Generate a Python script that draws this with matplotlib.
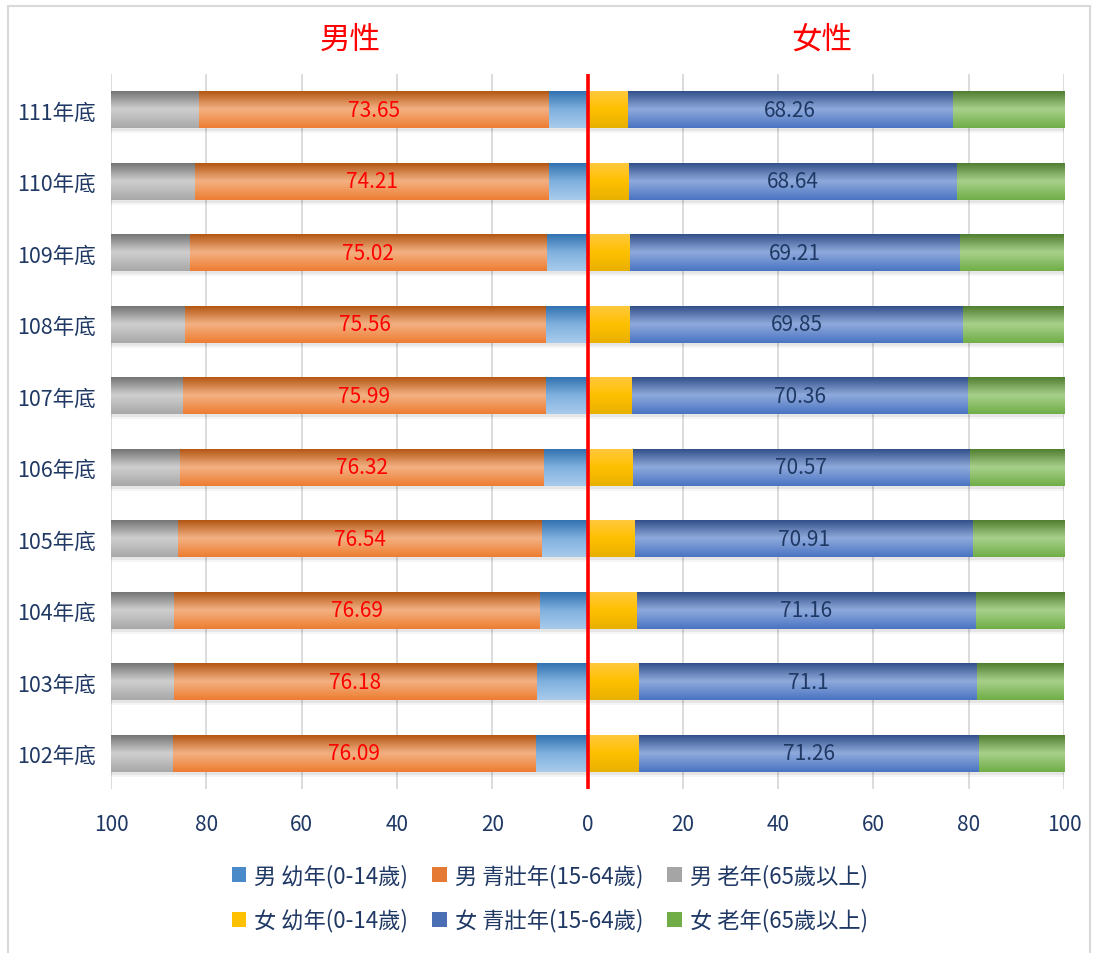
import numpy as np
import matplotlib.pyplot as plt
from matplotlib.patches import Patch, Rectangle
from matplotlib.colors import LinearSegmentedColormap

plt.rcParams['font.family'] = ['Noto Sans CJK TC', 'DejaVu Sans']

years = ['102年底', '103年底', '104年底', '105年底', '106年底',
         '107年底', '108年底', '109年底', '110年底', '111年底']

male_young = [10.9, 10.7, 10.1, 9.6, 9.2, 9.0, 9.0, 8.6, 8.2, 8.0]
male_work = [76.09, 76.18, 76.69, 76.54, 76.32, 75.99, 75.56, 75.02, 74.21, 73.65]
male_old = [100 - a - b for a, b in zip(male_young, male_work)]

female_young = [10.9, 10.7, 10.3, 9.9, 9.6, 9.4, 9.0, 9.0, 8.8, 8.4]
female_work = [71.26, 71.1, 71.16, 70.91, 70.57, 70.36, 69.85, 69.21, 68.64, 68.26]
female_old = [100 - a - b for a, b in zip(female_young, female_work)]

legend_labels = ['男 幼年(0-14歲)', '男 青壯年(15-64歲)', '男 老年(65歲以上)',
                 '女 幼年(0-14歲)', '女 青壯年(15-64歲)', '女 老年(65歲以上)']

# (top, middle, bottom) colours for the Excel-like gradient
grads = [
    ('#2E6FAE', '#7FB0DE', '#A8CBEB'),   # male young
    ('#B0520F', '#F4B183', '#ED7D31'),   # male working
    ('#707070', '#CFCFCF', '#A8A8A8'),   # male old
    ('#FFC940', '#FFC000', '#E8B000'),   # female young
    ('#2F4C86', '#8FAADC', '#4A74C2'),   # female working
    ('#4D7A2C', '#A8D18C', '#70AD47'),   # female old
]
flat = ['#4A8AC9', '#E57A35', '#A5A5A5', '#FFC000', '#4A6FB5', '#70AD47']

fig = plt.figure(figsize=(10.93, 9.54), dpi=100)
fig.patches.append(Rectangle((0.007, -0.01), 0.99, 1.0025, transform=fig.transFigure,
                             fill=False, edgecolor='#D9D9D9', lw=1.5))
ax = fig.add_axes([0.1016, 0.172, 0.8719, 0.7494])

y = np.arange(len(years))
h = 0.52
navy = '#1F3864'

# soft shadow under each full bar
for off, a in [(0.04, 0.06), (0.07, 0.04)]:
    ax.barh(y - off, -100, height=h, color='#000000', alpha=a, edgecolor='none', zorder=1.5)
    ax.barh(y - off, 100, height=h, color='#000000', alpha=a, edgecolor='none', zorder=1.5)


def grad_bar(left, width, color_set):
    bars = ax.barh(y, width, left=left, height=h, color=color_set[1], edgecolor='none', zorder=2)
    cmap = LinearSegmentedColormap.from_list('g', [color_set[0], color_set[1], color_set[2]])
    grad = np.linspace(0, 1, 64).reshape(-1, 1)
    for b in bars:
        x0, y0 = b.get_x(), b.get_y()
        im = ax.imshow(grad, extent=[x0, x0 + b.get_width(), y0, y0 + b.get_height()],
                       cmap=cmap, aspect='auto', zorder=2.1, interpolation='bicubic')
        im.set_clip_path(b)
    return bars


# male side (negative)
grad_bar(np.zeros(len(y)), -np.array(male_young), grads[0])
grad_bar(-np.array(male_young), -np.array(male_work), grads[1])
grad_bar(-np.array(male_young) - np.array(male_work), -np.array(male_old), grads[2])

# female side
grad_bar(np.zeros(len(y)), np.array(female_young), grads[3])
grad_bar(np.array(female_young), np.array(female_work), grads[4])
grad_bar(np.array(female_young) + np.array(female_work), np.array(female_old), grads[5])

for i in range(len(y)):
    ax.text(-male_young[i] - male_work[i] / 2, y[i], f'{male_work[i]:g}', color='red',
            ha='center', va='center', fontsize=15, zorder=5)
    ax.text(female_young[i] + female_work[i] / 2, y[i], f'{female_work[i]:g}', color=navy,
            ha='center', va='center', fontsize=15, zorder=5)

ax.axvline(0, color='red', lw=2.6, zorder=6)

ax.set_xlim(-100, 100)
ax.set_ylim(-0.5, len(y) - 0.5)
ax.set_xticks(np.arange(-100, 101, 20))
ax.set_xticklabels([str(abs(v)) for v in range(-100, 101, 20)])
ax.set_yticks(y)
ax.set_yticklabels(years)
ax.tick_params(axis='both', length=0, labelsize=15, colors=navy)
ax.tick_params(axis='y', labelsize=15.5)
ax.tick_params(axis='x', pad=17)
ax.tick_params(axis='y', pad=11)
ax.grid(axis='x', color='#D9D9D9', lw=1.3, zorder=0)
ax.set_axisbelow(True)
for s in ax.spines.values():
    s.set_visible(False)

fig.text(0.32, 0.958, '男性', color='red', fontsize=22, ha='center', va='center')
fig.text(0.752, 0.958, '女性', color='red', fontsize=22, ha='center', va='center')

handles = [Patch(facecolor=c, edgecolor='none') for c in flat]
order = [0, 3, 1, 4, 2, 5]
leg = fig.legend([handles[i] for i in order], [legend_labels[i] for i in order],
                 loc='center', bbox_to_anchor=(0.503, 0.058), ncol=3, frameon=False,
                 fontsize=16, handlelength=0.65, handleheight=0.65, handletextpad=0.35,
                 columnspacing=1.1, labelspacing=0.95)
for t in leg.get_texts():
    t.set_color(navy)

fig.savefig('out.png', dpi=100)
